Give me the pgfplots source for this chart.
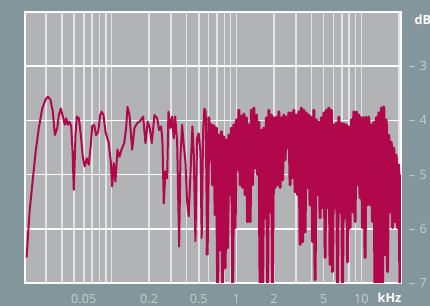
\documentclass[border=0pt]{standalone}
\usepackage{fontspec}
\setmainfont{Open Sans}
\usepackage{pgfplots}
\pgfplotsset{compat=1.18}
\definecolor{bg}{RGB}{130,150,155}
\definecolor{plotbg}{RGB}{178,179,181}
\definecolor{curve}{RGB}{176,8,74}
\definecolor{lbl}{RGB}{200,206,208}
\begin{document}
\begin{tikzpicture}
\path[use as bounding box, fill=bg] (-18.75pt,-17.25pt) rectangle (303.75pt,212.25pt);
\begin{axis}[
  at={(0,0)}, anchor=south west,
  scale only axis, width=282pt, height=203.25pt,
  xmode=log, xmin=20.3, xmax=20800,
  ymin=20, ymax=70, y dir=reverse,
  axis background/.style={fill=plotbg},
  axis line style={white, line width=1.5pt},
  xtick={20,30,40,50,60,70,80,90,100,200,300,400,500,600,700,800,900,1000,2000,3000,4000,5000,6000,7000,8000,9000,10000,20000},
  xticklabels={,,,,0.05,,,,,0.2,,,0.5,,,,,1,2,,,5,,,,,10,},
  ytick={30,40,50,60,70},
  yticklabels={–\hspace{3.5pt}3,–\hspace{3.5pt}4,–\hspace{3.5pt}5,–\hspace{3.5pt}6,–\hspace{3.5pt}7},
  yticklabel pos=right,
  xmajorgrids, ymajorgrids,
  x grid style={color=white!65!plotbg, line width=1.1pt},
  y grid style={color=white!95!plotbg, line width=1.3pt},
  major tick length=0pt, minor tick length=0pt,
  tick label style={font=\fontsize{9.5}{11}\selectfont, text=lbl},
  xticklabel style={anchor=north, inner sep=0pt, yshift=-8.25pt},
  yticklabel style={anchor=west, inner sep=0pt, xshift=5.5pt},
]
\addplot[curve, line width=1.5pt, line join=round] coordinates {
(20.9,65.3)(22.1,56.8)(23.2,51.9)(24.7,45.8)(26.2,41.4)(27.9,37.8)(29.6,36.2)(30.9,35.6)(32.5,36.2)(33.9,38.4)
(35.2,42.7)(36.8,41.4)(37.9,39.0)(39.3,37.8)(40.8,39.3)(42.3,40.8)(43.4,39.6)(44.7,40.8)(46.1,40.2)(47.6,41.1)
(48.8,45.8)(49.9,52.8)(51.5,42.7)(52.8,39.3)(54.8,39.6)(56.8,42.7)(58.9,46.7)(61.1,48.5)(63.5,47.0)(65.8,48.2)
(68.3,44.5)(70.1,41.1)(72.7,40.8)(75.4,42.7)(78.3,42.1)(81.2,39.0)(83.2,38.4)(86.3,39.0)(89.5,42.1)(95.1,44.2)
(98.7,47.6)(101.3,52.2)(104.3,47.9)(107.6,51.3)(111.7,45.4)(115.9,46.7)(120.2,45.4)(126.4,44.2)(131.1,41.4)(134.3,37.5)
(139.3,39.0)(146.4,45.4)(152.8,41.4)(160.6,40.5)(168.5,40.2)(179.3,39.3)(187.1,44.2)(195.2,40.2)(202.5,41.4)(210.1,44.2)
(220.8,39.0)(232.1,39.6)(240.8,41.8)(249.8,41.1)(255.9,43.9)(262.1,55.3)(270.4,49.4)(279.0,50.7)(285.8,38.4)(296.5,41.4)
(306.0,39.3)(315.1,43.3)(323.4,39.3)(335.5,43.9)(348.1,63.3)(356.5,47.0)(367.8,40.8)(378.8,44.5)(390.8,47.6)(403.3,55.0)
(415.4,57.7)(428.5,50.0)(444.6,41.1)(455.4,45.8)(469.9,62.3)(484.8,43.3)(499.3,42.4)(515.2,45.8)(527.7,61.7)(541.5,42.1)
(554.6,37.8)(568.1,38.4)(583.0,64.8)(602.6,39.5)
};
\addplot[curve, line width=2.2pt, line join=round] coordinates {
(583.0,64.8)
(602.6,39.5)(616.6,47.3)(631.0,40.8)(645.7,51.9)(660.7,41.0)(676.1,57.4)(691.8,41.4)(707.9,71.2)(724.4,42.7)(741.3,63.9)
(758.6,42.1)(776.2,71.2)(794.3,43.0)(812.8,67.2)(831.8,43.6)(851.1,63.5)(871.0,42.7)(891.3,53.7)(912.0,41.4)(933.3,71.2)
(955.0,40.8)(977.2,59.8)(1000,39.9)(1023,49.1)(1047,38.1)(1072,51.9)(1096,39.2)(1122,52.4)(1148,38.8)(1175,53.7)
(1202,39.5)(1230,58.7)(1259,40.8)(1288,58.7)(1318,38.1)(1349,51.9)(1380,37.7)(1413,48.8)(1445,39.0)(1479,50.0)
(1514,40.3)(1549,71.2)(1585,41.8)(1622,71.2)(1660,41.4)(1698,58.0)(1738,39.5)(1778,71.2)(1820,38.1)(1862,56.9)
(1905,39.0)(1950,71.2)(1995,39.5)(2042,52.4)(2089,39.4)(2138,51.9)(2188,38.4)(2239,52.4)(2291,39.5)(2344,51.0)
(2399,39.0)(2455,47.3)(2512,39.4)(2570,45.1)(2630,38.6)(2692,51.9)(2754,38.6)(2818,50.6)(2884,38.1)(2951,53.2)
(3020,39.0)(3090,53.7)(3162,38.4)(3236,62.9)(3311,37.7)(3388,62.4)(3467,38.1)(3548,60.6)(3631,38.6)(3715,52.4)
(3802,39.0)(3890,55.6)(3981,39.4)(4074,62.4)(4169,38.1)(4266,69.4)(4365,39.9)(4467,53.7)(4571,40.3)(4677,58.0)
(4786,39.5)(4898,56.1)(5012,38.6)(5129,65.3)(5248,38.1)(5370,56.1)(5495,37.7)(5623,66.6)(5754,38.1)(5888,67.9)
(6026,40.8)(6166,56.1)(6310,40.5)(6457,71.2)(6607,39.4)(6761,56.9)(6918,40.5)(7079,71.2)(7244,40.6)(7413,58.0)
(7586,40.8)(7762,66.1)(7943,41.2)(8128,59.8)(8318,39.9)(8511,56.9)(8710,38.4)(8913,58.7)(9120,38.4)(9333,51.9)
(9550,39.0)(9772,54.3)(10000,39.5)(10230,59.8)(10470,39.5)(10720,65.3)(10960,39.4)(11220,55.6)(11480,39.4)(11750,55.6)
(12020,40.8)(12300,58.7)(12590,40.3)(12880,71.2)(13180,39.5)(13490,71.2)(13800,38.6)(14130,71.2)(14450,37.7)(14790,71.2)
(15140,37.5)(15490,64.8)(15850,39.9)(16220,67.9)(16600,42.7)(16980,56.9)(17380,44.0)(17780,59.8)(18200,45.1)(18620,58.7)
(19050,46.4)(19500,59.8)(19950,48.2)(20420,71.2)(20890,50.0)
};
\end{axis}
\node[anchor=base, inner sep=0pt, text=white, font=\fontsize{9.5}{11}\selectfont\bfseries] at (273.4pt,-15pt) {kHz};
\node[anchor=north west, inner sep=0pt, text=white, font=\fontsize{9.5}{11}\selectfont\bfseries] at (292pt,201pt) {dB};
\end{tikzpicture}
\end{document}
